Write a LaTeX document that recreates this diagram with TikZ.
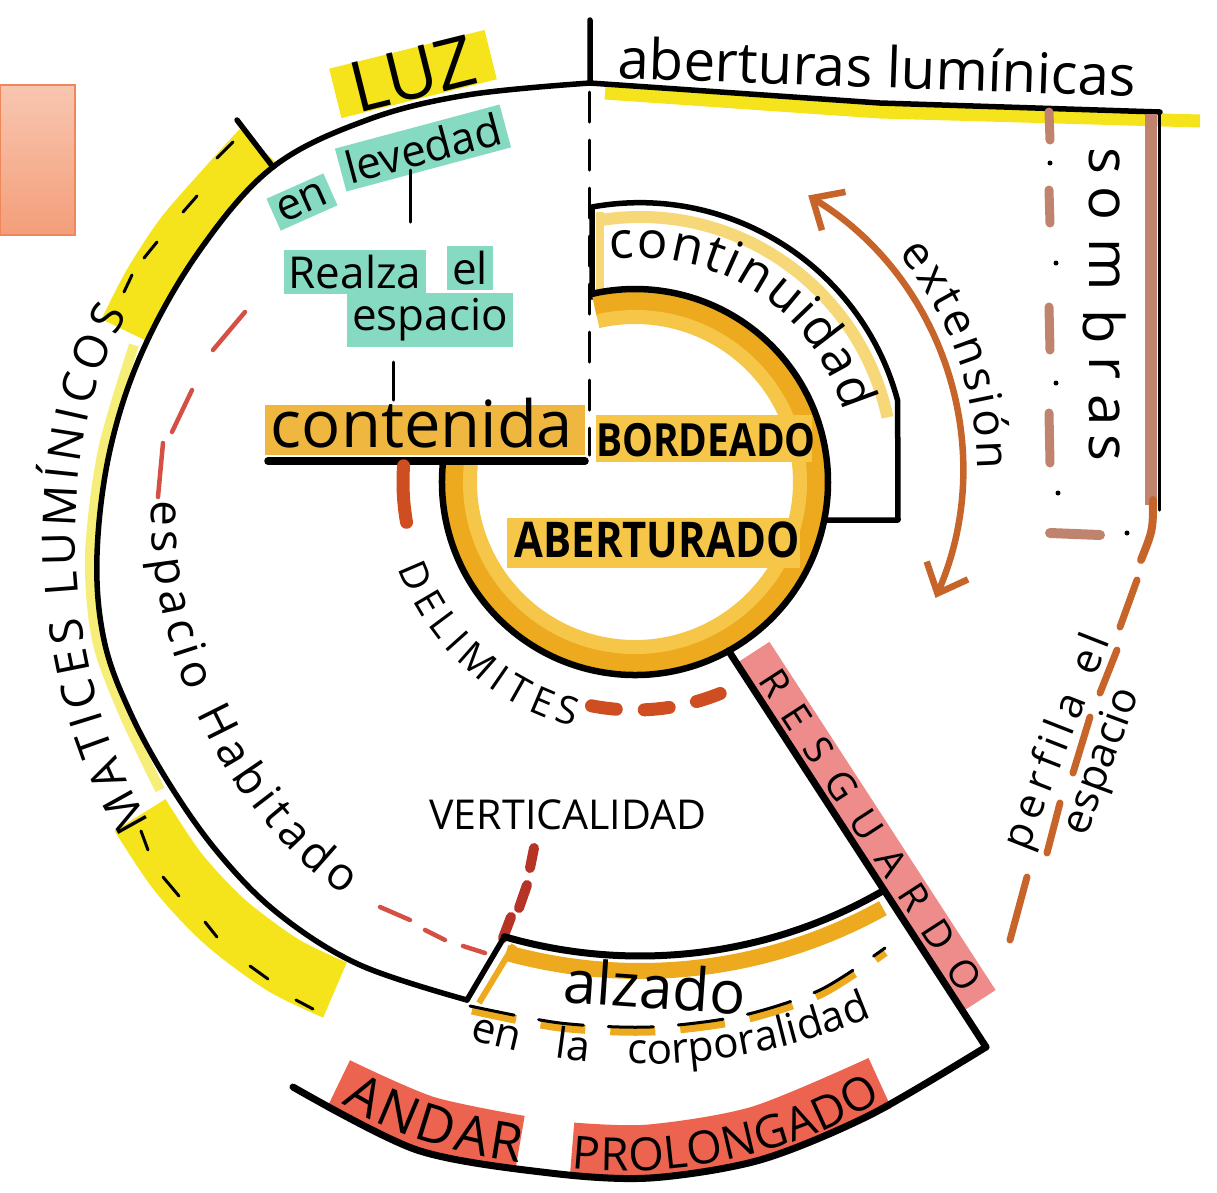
\documentclass[tikz,border=0pt]{standalone}
\usepackage{fontspec}
\setmainfont{Open Sans}
\usetikzlibrary{calc,arrows.meta,decorations.text}

\definecolor{salmonT}{RGB}{248,198,176}
\definecolor{salmonB}{RGB}{244,158,122}
\definecolor{salmonD}{RGB}{238,136,90}
\definecolor{lemon}{RGB}{245,228,28}
\definecolor{paleyel}{RGB}{246,238,120}
\definecolor{goldD}{RGB}{238,170,30}
\definecolor{goldL}{RGB}{246,198,72}
\definecolor{goldP}{RGB}{246,216,120}
\definecolor{mint}{RGB}{134,218,194}
\definecolor{coral}{RGB}{236,100,80}
\definecolor{rosa}{RGB}{238,140,140}
\definecolor{rust}{RGB}{198,100,42}
\definecolor{sombra}{RGB}{192,132,110}
\definecolor{redink}{RGB}{212,80,68}
\definecolor{darkred}{RGB}{182,52,38}
\definecolor{delim}{RGB}{206,78,34}

\newcommand{\fsz}[1]{\fontsize{#1}{#1}\selectfont}

\tikzset{
  ink/.style={line width=0.055cm, line cap=round, line join=round},
  fine/.style={line width=0.03cm, line cap=round},
  tag/.style={fill=mint, inner sep=1.5pt, font=\fsz{12.5}},
  curvetext/.style={decorate, decoration={text along path, text align={fit to path}, text={#1}}},
  wordtext/.style={decorate, decoration={text along path, text align={fit to path stretching spaces}, text={#1}}},
}

\begin{document}
\begin{tikzpicture}[x=0.01cm, y=0.01cm]
\useasboundingbox (0,0) rectangle (1217,-1193);
\coordinate (C0) at (640,-470);   % centre of the outer rings
\coordinate (R0) at (635,-482);   % centre of the inner ring

% corner tab
\shadedraw[top color=salmonT, bottom color=salmonB, draw=salmonD, line width=0.02cm] (0,-85) rectangle (75,-235);

% yellow bands on the rim
\draw[lemon, line width=0.5cm] plot[smooth] coordinates {(258,-146) (218,-190) (180,-234) (148,-283) (124,-330)};
\draw[lemon, line width=0.6cm] plot[smooth] coordinates {(140,-815) (178,-872) (225,-922) (283,-965) (335,-990)};
\draw[paleyel, line width=0.1cm] plot[smooth] coordinates {(134,-345) (103,-450) (90,-555) (97,-640) (123,-712) (160,-790)};
\node[fill=lemon, rotate=14, minimum width=1.6cm, minimum height=0.5cm, inner sep=0pt, font=\fsz{20}] (luz) at (413,-74) {LUZ};

% outer rim
\draw[ink] plot[smooth, tension=0.6] coordinates {(590,-83) (467,-95) (367,-120) (273,-167) (200,-250) (143,-350) (110,-450) (97,-555) (104,-640) (130,-712) (170,-785) (220,-855) (280,-915) (360,-965) (467,-1000)};
\draw[ink] (237,-120) -- (273,-167);
\foreach \xa/\ya/\xb/\yb in {217/158/233/142, 183/212/197/196, 144/258/157/242, 124/292/132/275}
  \draw[fine] (\xa,-\ya) -- (\xb,-\yb);
\foreach \xa/\ya/\xb/\yb in {141/831/148/850, 163/877/179/896, 205/922/217/937, 250/966/268/979, 296/1000/313/1009}
  \draw[fine] (\xa,-\ya) -- (\xb,-\yb);
\path[curvetext={|\fsz{13}|MATICES LUMÍNICOS}] (150,-822) .. controls (60,-680) and (50,-440) .. (128,-315);

% top line
\draw[lemon, line width=0.13cm] (605,-93) -- (880,-112) -- (1200,-121);
\draw[ink] (590,-20) -- (590,-83) -- (880,-103) -- (1160,-112);
\node[anchor=base west, rotate=-2, font=\fsz{16}] (aberturas) at (605,-78) {aberturas lumínicas};

% shadows frame
\draw[sombra, line width=0.12cm] (1151,-114) -- (1151,-505);
\draw[fine] (1159,-112) -- (1159,-510);
\draw[rust, line width=0.08cm, line cap=round] (1153,-500) .. controls (1153,-530) .. (1141,-560);
\foreach \ya/\yb in {112/140, 190/223, 307/350, 413/463}
  \draw[sombra, line width=0.09cm, line cap=round] (1049,-\ya) -- (1050,-\yb);
\draw[sombra, line width=0.1cm, line cap=round] (1050,-533) -- (1100,-535);
\foreach \xd/\yd in {1050/163, 1056/263, 1056/383, 1058/493, 1127/533}
  \fill (\xd,-\yd) circle (2.5);
\foreach \ch/\yc [count=\i] in {s/161, o/203, m/265, b/327, r/368, a/410, s/448}
  \node[rotate=-90, font=\fsz{16}] (sombra\i) at (1105,-\yc) {\ch};

% profile dashes
\foreach \xa/\ya/\xb/\yb in {1137/580/1120/627, 1117/650/1100/693, 1090/717/1073/773, 1060/803/1047/853, 1027/877/1010/940}
  \draw[rust, line width=0.07cm, line cap=round] (\xa,-\ya) -- (\xb,-\yb);
\path[curvetext={|\fsz{12}|perfila el}] (1027,-852) -- (1110,-640);
\path[curvetext={|\fsz{12}|espacio}] (1086,-837) -- (1139,-694);

% extension arrow
\draw[rust, line width=0.065cm, {Straight Barb[length=0.25cm,width=0.45cm]}-{Straight Barb[length=0.25cm,width=0.45cm]}]
  ($(C0)+(58.5:322)$) arc[start angle=58.5, end angle=-23.4, radius=322];
\path[curvetext={|\fsz{13}|extensión}] ($(C0)+(40:337)$) arc[start angle=40, end angle=0, radius=337];

% continuity box
\draw[goldP, line width=0.12cm] ($(C0)+(99:253)$) arc[start angle=99, end angle=12, radius=253];
\draw[goldP, line width=0.08cm] (600,-212) -- (600,-292);
\draw[ink] (592,-297) -- (592,-207) arc[start angle=100.3, end angle=15, radius=267] -- (898,-520) -- (824,-520);
\path[curvetext={|\fsz{14.5}|continuidad}] ($(C0)+(98:212)$) arc[start angle=98, end angle=16, radius=212];

% inner ring
\draw[goldD, line width=0.2cm] ($(R0)+(174:180)$) arc[start angle=174, end angle=463, radius=180];
\draw[goldL, line width=0.14cm] ($(R0)+(174:165)$) arc[start angle=174, end angle=463, radius=165];
\fill[goldL] (596,-415) rectangle (812,-462);
\fill[goldL] (507,-518) rectangle (800,-568);
\fill[goldD!85!white] (265,-405) rectangle (585,-455);
\draw[ink, line width=0.065cm] ($(R0)+(174:193)$) arc[start angle=174, end angle=463, radius=193];
\draw[fine, dash pattern=on 0.3cm off 0.18cm] (589,-92) -- (589,-455);
\node[anchor=base, font=\fsz{18.5}] (contenida) at (422,-447) {contenida};
\draw[ink, line width=0.075cm] (268,-461) -- (585,-461);
\node[font=\fsz{13}\bfseries, xscale=0.85] (bordeado) at (706,-440) {BORDEADO};
\node[font=\fsz{14}\bfseries, xscale=0.85] (aberturado) at (657,-540) {ABERTURADO};

% lighter labels
\node[tag, rotate=24] (en) at (302,-202) {en};
\node[tag, rotate=15] (levedad) at (423,-148) {levedad};
\draw[fine] (410,-170) -- (410,-222);
\node[tag] (realza) at (355,-272) {Realza};
\node[tag] (el) at (470,-268) {el};
\node[tag] (espacio) at (430,-320) {espacio};
\draw[fine] (393,-362) -- (393,-400);

% limits
\draw[delim, line width=0.13cm, line cap=round] ($(R0)+(176:232)$) arc[start angle=176, end angle=190, radius=232];
\draw[delim, line width=0.13cm, line cap=round, dash pattern=on 0.25cm off 0.28cm] ($(R0)+(259:228)$) arc[start angle=259, end angle=292, radius=228];
\path[curvetext={|\fsz{11}|DELIMITES}] ($(R0)+(200:252)$) arc[start angle=200, end angle=256, radius=252];

% inhabited space
\foreach \xa/\ya/\xb/\yb in {245/312/213/350, 192/390/172/432, 163/443/158/497, 380/907/410/920, 425/930/445/940, 463/946/485/953}
  \draw[redink, line width=0.045cm, line cap=round] (\xa,-\ya) -- (\xb,-\yb);
\path[curvetext={|\fsz{13}|espacio Habitado}] (152,-500) .. controls (145,-650) and (230,-820) .. (345,-895);
\node[font=\fsz{11.7}] (vertical) at (568,-815) {VERTICALIDAD};
\foreach \xa/\ya/\xb/\yb in {534/848/530/868, 527/885/519/908, 511/917/503/938}
  \draw[darkred, line width=0.1cm, line cap=round] (\xa,-\ya) -- (\xb,-\yb);

% elevation band
\draw[goldD, line width=0.16cm] ($(C0)+(254.5:501)$) arc[start angle=254.5, end angle=299, radius=501];
\draw[goldD, line width=0.06cm] (514,-945) -- (479,-1003);
\draw[ink, line width=0.07cm] ($(C0)+(253.8:486)$) arc[start angle=253.8, end angle=299.7, radius=486];
\draw[ink] ($(C0)+(253.8:486)$) -- (467,-1000);
\draw[goldD, line width=0.09cm, dash pattern=on 0.45cm off 0.25cm] plot[smooth] coordinates {(472,-1010) (560,-1027) (650,-1031) (740,-1020) (820,-994) (885,-952)};
\draw[fine, dash pattern=on 0.45cm off 0.25cm] plot[smooth] coordinates {(470,-1006) (560,-1023) (650,-1027) (740,-1016) (820,-990) (885,-948)};
\node[rotate=-4, font=\fsz{17}] (alzado) at (655,-986) {alzado};
\path[wordtext={|\fsz{12}|en la corporalidad}] ($(C0)+(253.3:594)$) arc[start angle=253.3, end angle=293, radius=594];

% shelter
\node[fill=rosa, rotate=-57, minimum width=4.15cm, minimum height=0.37cm, inner sep=0pt] (resguardo) at (867,-826) {};
\draw[ink, line width=0.07cm] ($(R0)+(-61:193)$) -- (986,-1047);
\path[curvetext={|\fsz{11}|RESGUARDO}] (757,-680) -- (961,-995);

% prolonged walk
\draw[coral, line width=0.55cm] plot[smooth] coordinates {(338,-1085) (425,-1123) (520,-1143)};
\draw[coral, line width=0.55cm] plot[smooth] coordinates {(572,-1150) (650,-1152) (760,-1133) (880,-1083)};
\draw[ink, line width=0.07cm] plot[smooth] coordinates {(293,-1087) (417,-1150) (550,-1173) (650,-1178) (760,-1160) (870,-1115) (986,-1047)};
\path[curvetext={|\fsz{15}|ANDAR}] (342,-1103) .. controls (390,-1135) and (460,-1155) .. (520,-1163);
\path[curvetext={|\fsz{13}|PROLONGADO}] (572,-1168) .. controls (680,-1180) and (800,-1152) .. (882,-1100);
\end{tikzpicture}
\end{document}
